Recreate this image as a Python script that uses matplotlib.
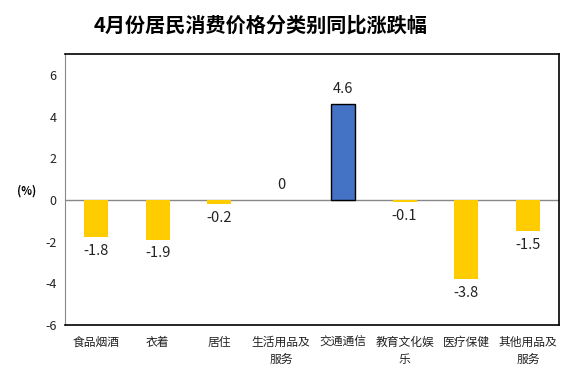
import matplotlib
matplotlib.use('Agg')
import matplotlib.pyplot as plt

plt.rcParams['font.family'] = ['Noto Sans CJK SC', 'DejaVu Sans']

categories = ['食品烟酒', '衣着', '居住', '生活用品及\n服务', '交通通信',
              '教育文化娱\n乐', '医疗保健', '其他用品及\n服务']
values = [-1.8, -1.9, -0.2, 0, 4.6, -0.1, -3.8, -1.5]
labels = ['-1.8', '-1.9', '-0.2', '0', '4.6', '-0.1', '-3.8', '-1.5']
yticks = [-6, -4, -2, 0, 2, 4, 6]

yellow = '#FFCC00'
blue = '#4472C4'

fig = plt.figure(figsize=(5.74, 3.74), dpi=100)
ax = fig.add_axes([65 / 574, 1 - 325 / 374, (559 - 65) / 574, (325 - 54) / 374])

x = list(range(len(categories)))
colors = [blue if v > 0 else yellow for v in values]
edges = ['black' if v > 0 else 'none' for v in values]
ax.bar(x, values, width=0.39, color=colors, edgecolor=edges, linewidth=1, zorder=2)

for xi, v, lab in zip(x, values, labels):
    if v >= 0:
        ax.annotate(lab, (xi, v), xytext=(0, 6), textcoords='offset points',
                    ha='center', va='bottom', fontsize=10.5, color='#222222')
    else:
        ax.annotate(lab, (xi, v), xytext=(0, -5), textcoords='offset points',
                    ha='center', va='top', fontsize=10.5, color='#222222')

# zero line sits under the bars so the small -0.1 stub stays visible
ax.axhline(0, color='#888888', linewidth=1, zorder=1)
ax.set_xlim(-0.5, len(categories) - 0.5)
ax.set_ylim(-6, 7)
ax.set_yticks(yticks)
ax.set_yticklabels([str(t) for t in yticks], fontsize=9, color='#222222')
ax.set_xticks(x)
ax.set_xticklabels(categories, fontsize=8.5, color='#222222', linespacing=1.4)
ax.tick_params(axis='both', length=0, pad=6)
ax.tick_params(axis='x', pad=8)

ax.spines['left'].set_color('#888888')
for s in ['top', 'right', 'bottom']:
    ax.spines[s].set_color('black')
    ax.spines[s].set_linewidth(1.2)

fig.text(27 / 574, 1 - 191 / 374, '(%)', fontsize=8, fontweight='bold',
         ha='center', va='center')
fig.text(261 / 574, 1 - 25 / 374, '4月份居民消费价格分类别同比涨跌幅',
         fontsize=14.5, fontweight='bold', ha='center', va='center')

fig.savefig('out.png', dpi=100)
